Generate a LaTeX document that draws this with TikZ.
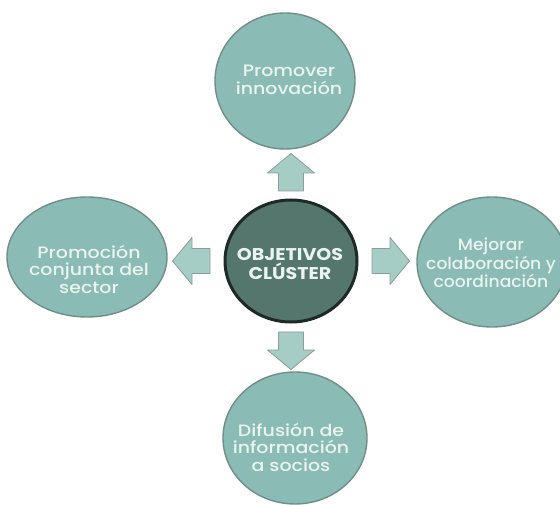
\documentclass[tikz,border=0pt]{standalone}
\usepackage{fontspec}
\setmainfont{Poppins}[UprightFont=* Medium, BoldFont=* Bold]
\usetikzlibrary{shapes.geometric}
\definecolor{tealfill}{RGB}{138,187,180}
\definecolor{tealrim}{RGB}{112,142,137}
\definecolor{corefill}{RGB}{84,118,108}
\definecolor{corerim}{RGB}{30,42,38}
\definecolor{arrowfill}{RGB}{165,205,197}
\definecolor{arrowrim}{RGB}{135,158,154}
\definecolor{txt}{RGB}{234,244,241}
\begin{document}
\begin{tikzpicture}[x=1pt,y=-1pt,
  goal/.style={ellipse, fill=tealfill, draw=tealrim, line width=1.4pt, inner sep=0pt},
  goaltext/.style={text=txt, align=center, font=\addfontfeature{FakeStretch=1.15}\fontsize{16.5}{17.5}\selectfont},
  narrowtext/.style={text=txt, align=center, font=\addfontfeature{FakeStretch=1.04}\fontsize{16.5}{17.5}\selectfont},
  core/.style={ellipse, fill=corefill, draw=corerim, line width=3pt, inner sep=0pt},
  coretext/.style={text=txt, align=center, font=\bfseries\addfontfeature{FakeStretch=1.12}\fontsize{17}{18.5}\selectfont},
  blockarrow/.style={fill=arrowfill, draw=arrowrim, line width=0.8pt, line join=round}]
\useasboundingbox (0,0) rectangle (560,505);
% circles
\node[core, minimum width=132pt, minimum height=122pt] (c) at (291,261) {};
\node[goal, minimum width=140pt, minimum height=136pt] (t) at (285,81) {};
\node[goal, minimum width=160pt, minimum height=120pt] (l) at (87,257) {};
\node[goal, minimum width=150pt, minimum height=130pt] (r) at (492,262) {};
\node[goal, minimum width=144pt, minimum height=132pt] (b) at (295,438) {};
% texts
\node[coretext] (ct) at (290,264) {OBJETIVOS\\CLÚSTER};
\node[goaltext] (tt) at (289,80) {Promover\\innovación};
\node[goaltext] (lt) at (89,269) {Promoción\\conjunta del\\sector};
\node[narrowtext] (rt) at (491,263) {Mejorar\\colaboración y\\coordinación};
\node[goaltext] (bt) at (291,447) {Difusión de\\información\\a socios};
% block arrows (anchored at head base)
\foreach \px/\py/\ang in {390/261/0, 192/261/180, 291/173/90, 291/350/-90}{
  \begin{scope}[shift={(\px,\py)}, rotate=\ang]
    \draw[blockarrow] (-18,-12.5) -- (0,-12.5) -- (0,-23.5) -- (19.5,0) -- (0,23.5) -- (0,12.5) -- (-18,12.5) -- cycle;
  \end{scope}
}
\end{tikzpicture}
\end{document}
